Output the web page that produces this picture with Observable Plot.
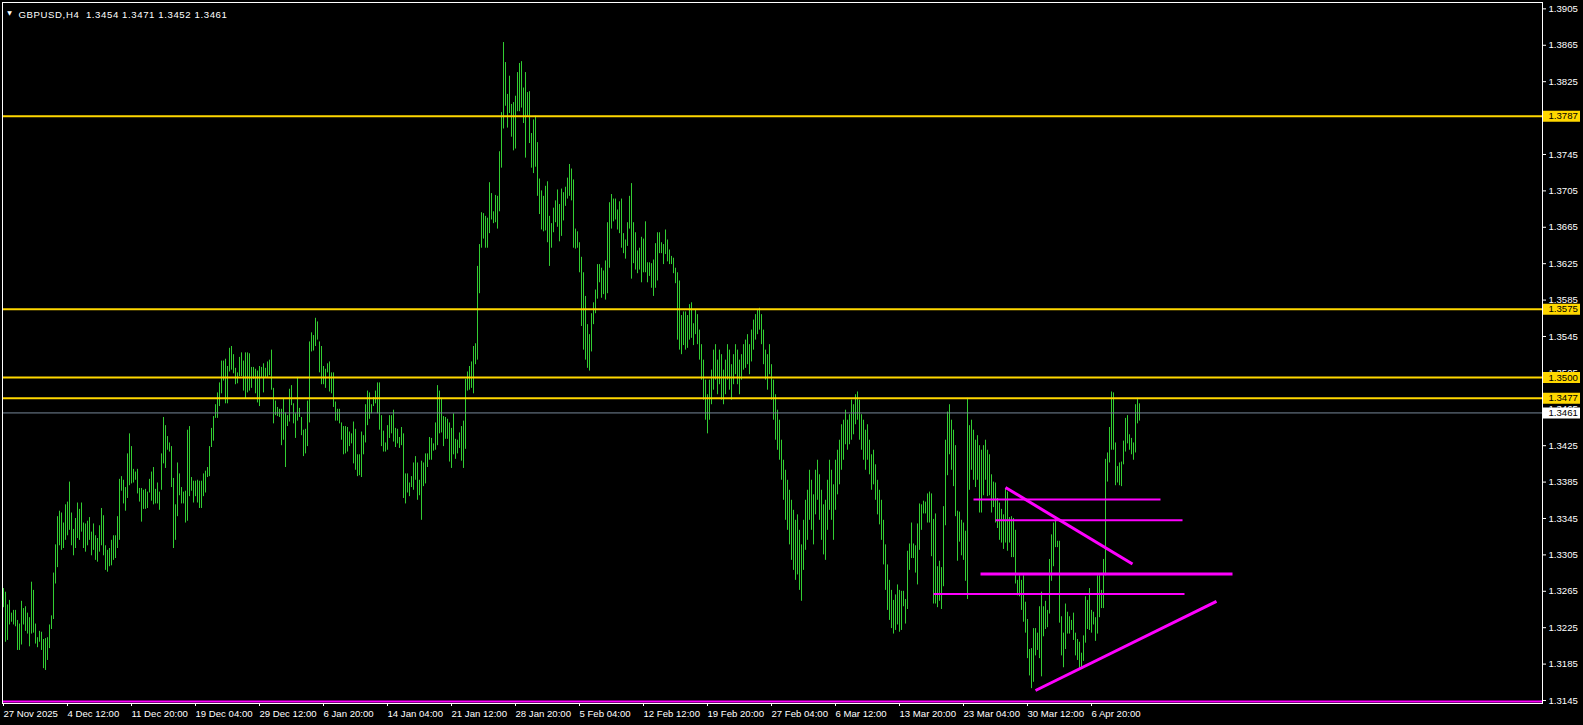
<!DOCTYPE html>
<html><head><meta charset="utf-8">
<script src="https://cdn.jsdelivr.net/npm/d3@7"></script>
<script src="https://cdn.jsdelivr.net/npm/@observablehq/plot@0.6"></script>
<style>html,body{margin:0;padding:0;background:#000;overflow:hidden}</style>
</head><body><div id="chart"></div>
<script>
const titleText = "GBPUSD,H4\u00a0 1.3454 1.3471 1.3452 1.3461";

const high = [
1.3268,1.3264,1.3250,1.3255,1.3241,1.3244,1.3244,1.3233,1.3229,1.3254,
1.3246,1.3248,1.3241,1.3236,1.3275,1.3266,1.3229,1.3214,1.3221,1.3220,
1.3212,1.3213,1.3214,1.3228,1.3238,1.3285,1.3316,1.3347,1.3353,1.3351,
1.3340,1.3360,1.3363,1.3385,1.3351,1.3333,1.3345,1.3362,1.3355,1.3362,
1.3340,1.3339,1.3342,1.3346,1.3330,1.3339,1.3326,1.3323,1.3337,1.3356,
1.3348,1.3315,1.3310,1.3312,1.3321,1.3326,1.3326,1.3347,1.3388,1.3391,
1.3387,1.3379,1.3416,1.3438,1.3424,1.3399,1.3396,1.3399,1.3378,1.3378,
1.3376,1.3377,1.3374,1.3388,1.3396,1.3401,1.3377,1.3384,1.3374,1.3416,
1.3456,1.3447,1.3435,1.3428,1.3424,1.3389,1.3360,1.3406,1.3394,1.3379,
1.3374,1.3375,1.3442,1.3446,1.3390,1.3386,1.3386,1.3387,1.3386,1.3386,
1.3394,1.3397,1.3401,1.3424,1.3444,1.3457,1.3470,1.3483,1.3494,1.3518,
1.3518,1.3520,1.3512,1.3532,1.3534,1.3525,1.3510,1.3505,1.3522,1.3527,
1.3518,1.3527,1.3527,1.3526,1.3511,1.3511,1.3509,1.3507,1.3512,1.3511,
1.3515,1.3510,1.3517,1.3519,1.3530,1.3488,1.3474,1.3467,1.3465,1.3465,
1.3476,1.3461,1.3458,1.3487,1.3491,1.3471,1.3460,1.3500,1.3466,1.3456,
1.3442,1.3443,1.3474,1.3539,1.3549,1.3546,1.3565,1.3561,1.3539,1.3534,
1.3512,1.3509,1.3515,1.3517,1.3505,1.3505,1.3473,1.3465,1.3465,1.3450,
1.3446,1.3446,1.3445,1.3440,1.3438,1.3451,1.3443,1.3415,1.3415,1.3440,
1.3436,1.3470,1.3485,1.3483,1.3470,1.3478,1.3485,1.3494,1.3494,1.3458,
1.3441,1.3428,1.3447,1.3458,1.3458,1.3464,1.3444,1.3443,1.3434,1.3445,
1.3438,1.3394,1.3394,1.3384,1.3391,1.3406,1.3413,1.3406,1.3387,1.3408,
1.3406,1.3416,1.3416,1.3434,1.3433,1.3427,1.3450,1.3491,1.3485,1.3477,
1.3457,1.3456,1.3454,1.3450,1.3444,1.3460,1.3432,1.3431,1.3439,1.3446,
1.3452,1.3498,1.3506,1.3512,1.3517,1.3534,1.3537,1.3622,1.3646,1.3681,
1.3680,1.3677,1.3675,1.3714,1.3702,1.3682,1.3700,1.3699,1.3748,1.3791,
1.3868,1.3846,1.3811,1.3831,1.3800,1.3802,1.3809,1.3835,1.3845,1.3847,
1.3818,1.3835,1.3813,1.3814,1.3768,1.3783,1.3787,1.3758,1.3718,1.3705,
1.3699,1.3710,1.3715,1.3677,1.3669,1.3686,1.3694,1.3706,1.3690,1.3707,
1.3703,1.3709,1.3719,1.3734,1.3729,1.3717,1.3663,1.3660,1.3648,1.3632,
1.3615,1.3589,1.3558,1.3547,1.3570,1.3582,1.3596,1.3624,1.3624,1.3620,
1.3617,1.3628,1.3670,1.3692,1.3701,1.3696,1.3696,1.3684,1.3693,1.3696,
1.3658,1.3651,1.3670,1.3699,1.3713,1.3670,1.3659,1.3639,1.3642,1.3654,
1.3652,1.3671,1.3626,1.3626,1.3625,1.3629,1.3647,1.3659,1.3659,1.3648,
1.3646,1.3662,1.3651,1.3640,1.3633,1.3631,1.3620,1.3615,1.3606,1.3568,
1.3572,1.3572,1.3568,1.3580,1.3582,1.3559,1.3574,1.3569,1.3552,1.3536,
1.3519,1.3497,1.3481,1.3497,1.3508,1.3530,1.3536,1.3519,1.3530,1.3525,
1.3508,1.3519,1.3536,1.3530,1.3514,1.3525,1.3536,1.3530,1.3519,1.3525,
1.3536,1.3541,1.3547,1.3536,1.3552,1.3563,1.3569,1.3574,1.3576,1.3569,
1.3552,1.3530,1.3525,1.3536,1.3514,1.3497,1.3481,1.3464,1.3453,1.3431,
1.3409,1.3398,1.3387,1.3376,1.3365,1.3354,1.3343,1.3349,1.3332,1.3316,
1.3343,1.3365,1.3376,1.3398,1.3387,1.3371,1.3398,1.3409,1.3393,1.3376,
1.3360,1.3365,1.3387,1.3409,1.3398,1.3382,1.3409,1.3420,1.3431,1.3448,
1.3453,1.3464,1.3453,1.3459,1.3475,1.3470,1.3481,1.3484,1.3475,1.3459,
1.3453,1.3442,1.3448,1.3431,1.3415,1.3420,1.3404,1.3387,1.3376,1.3365,
1.3343,1.3316,1.3294,1.3277,1.3266,1.3255,1.3261,1.3272,1.3266,1.3265,
1.3265,1.3256,1.3309,1.3317,1.3340,1.3317,1.3315,1.3339,1.3361,1.3360,
1.3364,1.3363,1.3372,1.3374,1.3372,1.3344,1.3350,1.3292,1.3298,1.3291,
1.3358,1.3431,1.3462,1.3470,1.3453,1.3442,1.3425,1.3353,1.3352,1.3343,
1.3340,1.3331,1.3477,1.3447,1.3453,1.3442,1.3431,1.3436,1.3425,1.3420,
1.3425,1.3431,1.3420,1.3415,1.3393,1.3385,1.3384,1.3367,1.3362,1.3355,
1.3349,1.3378,1.3374,1.3346,1.3347,1.3345,1.3332,1.3277,1.3282,1.3277,
1.3282,1.3253,1.3234,1.3201,1.3202,1.3224,1.3224,1.3219,1.3248,1.3264,
1.3248,1.3254,1.3244,1.3300,1.3327,1.3340,1.3345,1.3320,1.3320,1.3237,
1.3219,1.3251,1.3242,1.3237,1.3233,1.3241,1.3219,1.3212,1.3209,1.3197,
1.3216,1.3259,1.3255,1.3268,1.3244,1.3242,1.3236,1.3282,1.3282,1.3266,
1.3300,1.3410,1.3417,1.3445,1.3484,1.3483,1.3428,1.3402,1.3406,1.3407,
1.3430,1.3455,1.3458,1.3437,1.3433,1.3428,1.3470,1.3477,1.3471
];

const low = [
1.3247,1.3209,1.3211,1.3228,1.3231,1.3228,1.3226,1.3200,1.3200,1.3206,
1.3228,1.3221,1.3218,1.3204,1.3218,1.3219,1.3207,1.3203,1.3209,1.3200,
1.3180,1.3178,1.3189,1.3202,1.3223,1.3234,1.3273,1.3291,1.3315,1.3310,
1.3312,1.3321,1.3326,1.3332,1.3315,1.3304,1.3312,1.3323,1.3321,1.3330,
1.3312,1.3308,1.3315,1.3321,1.3304,1.3310,1.3299,1.3297,1.3308,1.3315,
1.3304,1.3288,1.3286,1.3292,1.3293,1.3299,1.3301,1.3312,1.3321,1.3375,
1.3361,1.3353,1.3367,1.3381,1.3383,1.3384,1.3387,1.3372,1.3363,1.3341,
1.3355,1.3355,1.3356,1.3373,1.3364,1.3360,1.3361,1.3361,1.3354,1.3376,
1.3405,1.3400,1.3420,1.3418,1.3379,1.3312,1.3321,1.3347,1.3370,1.3361,
1.3361,1.3340,1.3342,1.3369,1.3375,1.3362,1.3369,1.3362,1.3356,1.3356,
1.3369,1.3373,1.3390,1.3391,1.3423,1.3430,1.3455,1.3455,1.3468,1.3482,
1.3496,1.3471,1.3471,1.3506,1.3508,1.3504,1.3492,1.3493,1.3501,1.3501,
1.3485,1.3476,1.3483,1.3485,1.3488,1.3498,1.3482,1.3472,1.3468,1.3499,
1.3483,1.3499,1.3499,1.3502,1.3486,1.3449,1.3458,1.3457,1.3456,1.3425,
1.3431,1.3401,1.3446,1.3451,1.3469,1.3449,1.3433,1.3452,1.3456,1.3436,
1.3413,1.3416,1.3424,1.3450,1.3528,1.3529,1.3534,1.3541,1.3505,1.3492,
1.3492,1.3488,1.3505,1.3484,1.3482,1.3467,1.3452,1.3452,1.3449,1.3431,
1.3415,1.3416,1.3418,1.3424,1.3427,1.3405,1.3398,1.3391,1.3392,1.3390,
1.3415,1.3428,1.3447,1.3454,1.3460,1.3468,1.3471,1.3460,1.3442,1.3424,
1.3418,1.3418,1.3420,1.3433,1.3438,1.3429,1.3423,1.3427,1.3422,1.3425,
1.3367,1.3361,1.3373,1.3369,1.3379,1.3376,1.3387,1.3365,1.3370,1.3343,
1.3380,1.3383,1.3401,1.3409,1.3409,1.3419,1.3420,1.3425,1.3438,1.3439,
1.3424,1.3432,1.3432,1.3407,1.3400,1.3415,1.3410,1.3416,1.3422,1.3408,
1.3400,1.3421,1.3485,1.3486,1.3488,1.3482,1.3514,1.3519,1.3592,1.3642,
1.3652,1.3642,1.3642,1.3658,1.3673,1.3669,1.3670,1.3663,1.3682,1.3730,
1.3773,1.3798,1.3774,1.3790,1.3764,1.3749,1.3751,1.3792,1.3792,1.3796,
1.3779,1.3741,1.3787,1.3757,1.3730,1.3724,1.3731,1.3699,1.3679,1.3662,
1.3660,1.3661,1.3648,1.3622,1.3642,1.3659,1.3670,1.3665,1.3649,1.3655,
1.3672,1.3688,1.3696,1.3699,1.3694,1.3642,1.3641,1.3642,1.3615,1.3556,
1.3530,1.3519,1.3510,1.3507,1.3528,1.3558,1.3570,1.3586,1.3604,1.3587,
1.3591,1.3585,1.3592,1.3620,1.3663,1.3671,1.3673,1.3662,1.3658,1.3642,
1.3636,1.3630,1.3644,1.3663,1.3608,1.3625,1.3618,1.3614,1.3618,1.3604,
1.3615,1.3615,1.3604,1.3611,1.3598,1.3589,1.3598,1.3606,1.3636,1.3636,
1.3624,1.3635,1.3627,1.3624,1.3624,1.3614,1.3603,1.3541,1.3530,1.3525,
1.3535,1.3530,1.3532,1.3541,1.3543,1.3535,1.3547,1.3536,1.3519,1.3497,
1.3475,1.3453,1.3438,1.3453,1.3470,1.3486,1.3497,1.3481,1.3492,1.3475,
1.3470,1.3481,1.3497,1.3486,1.3475,1.3492,1.3503,1.3492,1.3481,1.3497,
1.3508,1.3510,1.3514,1.3503,1.3517,1.3530,1.3541,1.3547,1.3552,1.3536,
1.3514,1.3497,1.3486,1.3503,1.3475,1.3453,1.3431,1.3420,1.3409,1.3387,
1.3365,1.3343,1.3332,1.3316,1.3299,1.3288,1.3277,1.3283,1.3266,1.3254,
1.3288,1.3310,1.3321,1.3343,1.3332,1.3316,1.3349,1.3365,1.3343,1.3321,
1.3305,1.3299,1.3332,1.3354,1.3343,1.3321,1.3354,1.3371,1.3382,1.3398,
1.3409,1.3426,1.3420,1.3426,1.3431,1.3437,1.3448,1.3453,1.3431,1.3420,
1.3409,1.3398,1.3409,1.3393,1.3376,1.3382,1.3365,1.3349,1.3338,1.3321,
1.3294,1.3266,1.3244,1.3233,1.3224,1.3218,1.3222,1.3228,1.3220,1.3222,
1.3248,1.3229,1.3245,1.3288,1.3301,1.3301,1.3285,1.3272,1.3310,1.3332,
1.3350,1.3350,1.3340,1.3340,1.3303,1.3251,1.3251,1.3247,1.3254,1.3245,
1.3270,1.3337,1.3392,1.3415,1.3398,1.3380,1.3347,1.3298,1.3319,1.3304,
1.3299,1.3276,1.3256,1.3376,1.3398,1.3387,1.3379,1.3387,1.3351,1.3351,
1.3370,1.3387,1.3369,1.3370,1.3351,1.3357,1.3340,1.3334,1.3321,1.3318,
1.3311,1.3318,1.3309,1.3318,1.3302,1.3302,1.3273,1.3260,1.3259,1.3244,
1.3231,1.3219,1.3191,1.3172,1.3158,1.3165,1.3194,1.3200,1.3191,1.3171,
1.3215,1.3223,1.3225,1.3240,1.3276,1.3292,1.3313,1.3313,1.3230,1.3194,
1.3181,1.3201,1.3218,1.3218,1.3222,1.3211,1.3194,1.3189,1.3180,1.3179,
1.3188,1.3208,1.3223,1.3222,1.3219,1.3228,1.3210,1.3218,1.3236,1.3246,
1.3246,1.3282,1.3385,1.3406,1.3420,1.3420,1.3381,1.3384,1.3381,1.3380,
1.3404,1.3418,1.3427,1.3420,1.3415,1.3409,1.3417,1.3449,1.3452
];

const dateTickIndex = [0,32,64,96,128,160,192,224,256,288,320,352,384,416,448,480,512,544];
const dateTickLabels = ["27 Nov 2025","4 Dec 12:00","11 Dec 20:00","19 Dec 04:00","29 Dec 12:00","6 Jan 20:00","14 Jan 04:00","21 Jan 12:00","28 Jan 20:00","5 Feb 04:00","12 Feb 12:00","19 Feb 20:00","27 Feb 04:00","6 Mar 12:00","13 Mar 20:00","23 Mar 04:00","30 Mar 12:00","6 Apr 20:00"];
const priceTicks = [1.3145,1.3185,1.3225,1.3265,1.3305,1.3345,1.3385,1.3425,1.3465,1.3505,1.3545,1.3585,1.3625,1.3665,1.3705,1.3745,1.3785,1.3825,1.3865,1.3905];

const goldLevels = [1.3787, 1.3575, 1.3500, 1.3477];
const currentPrice = [1.3461];
const baseLevel = [1.3144];

// trend segments: bar index and price at each end
const thinSegments = [
  {i1: 485, p1: 1.3366, i2: 578.5, p2: 1.3366},
  {i1: 496, p1: 1.3343, i2: 589.5, p2: 1.3343},
  {i1: 465, p1: 1.3262, i2: 590.5, p2: 1.3262}
];
const thickSegments = [
  {i1: 488.5, p1: 1.3284, i2: 614.5, p2: 1.3284},
  {i1: 501, p1: 1.3379, i2: 564.5, p2: 1.3295},
  {i1: 516, p1: 1.3156, i2: 606.5, p2: 1.3254}
];

const n = Math.min(high.length, low.length);
const bars = d3.range(n).map(i => ({i, high: high[i], low: low[i]}));

const GOLD = "#FFD700";
const GREEN = "#32CD32";
const MAGENTA = "#FF00FF";
const FS = 9.6;

const chart = Plot.plot({
  width: 1583,
  height: 725,
  marginLeft: 2,
  marginRight: 41,
  marginTop: 2,
  marginBottom: 22,
  style: {background: "#000", color: "#fff", fontFamily: "'Liberation Sans', Arial, sans-serif", fontSize: FS + "px"},
  x: {type: "linear", domain: [-0.5, 769.5]},
  y: {type: "linear", domain: [1.31417, 1.39120]},
  marks: [
    Plot.ruleX(bars, {x: "i", y1: "low", y2: "high", stroke: GREEN, strokeWidth: 1}),
    Plot.ruleY(goldLevels, {y: d => d, stroke: GOLD, strokeWidth: 2}),
    Plot.ruleY(currentPrice, {y: d => d, stroke: "#778899", strokeWidth: 1}),
    Plot.ruleY(baseLevel, {y: d => d, stroke: MAGENTA, strokeWidth: 2}),
    Plot.link(thinSegments, {x1: "i1", y1: "p1", x2: "i2", y2: "p2", stroke: MAGENTA, strokeWidth: 2}),
    Plot.link(thickSegments, {x1: "i1", y1: "p1", x2: "i2", y2: "p2", stroke: MAGENTA, strokeWidth: 3}),
    Plot.frame({stroke: "#fff"}),
    Plot.axisY(priceTicks, {anchor: "right", tickSize: 3, tickPadding: 3, tickFormat: d => d.toFixed(4), label: null, fontSize: FS, fill: "#fff", stroke: "#fff"}),
    Plot.axisX(dateTickIndex, {anchor: "bottom", tickSize: 3, tickPadding: 4, textAnchor: "start", tickFormat: d => dateTickLabels[dateTickIndex.indexOf(d)], label: null, fontSize: FS, fill: "#fff", stroke: "#fff"}),
    Plot.ruleY(goldLevels, {y: d => d, stroke: GOLD, strokeWidth: 11, insetLeft: 1541, insetRight: -38}),
    Plot.ruleY(currentPrice, {y: d => d, stroke: "#fff", strokeWidth: 11, insetLeft: 1541, insetRight: -38}),
    Plot.text(goldLevels, {y: d => d, text: d => d.toFixed(4), frameAnchor: "right", dx: 6, textAnchor: "start", fill: "#000", fontSize: FS}),
    Plot.text(currentPrice, {y: d => d, text: d => d.toFixed(4), frameAnchor: "right", dx: 6, textAnchor: "start", fill: "#000", fontSize: FS}),
    Plot.text(["\u25BC"], {frameAnchor: "top-left", dx: 7, dy: 8.5, textAnchor: "middle", fill: "#fff", fontSize: 6, fontFamily: "DejaVu Sans"}),
    Plot.text([titleText], {frameAnchor: "top-left", dx: 16, dy: 9, textAnchor: "start", fill: "#fff", fontSize: FS})
  ]
});
d3.select(chart).selectAll("text")
  .filter(function() { return this.textContent === titleText; })
  .attr("letter-spacing", 0.6);
document.getElementById("chart").appendChild(chart);
</script>
</body></html>
